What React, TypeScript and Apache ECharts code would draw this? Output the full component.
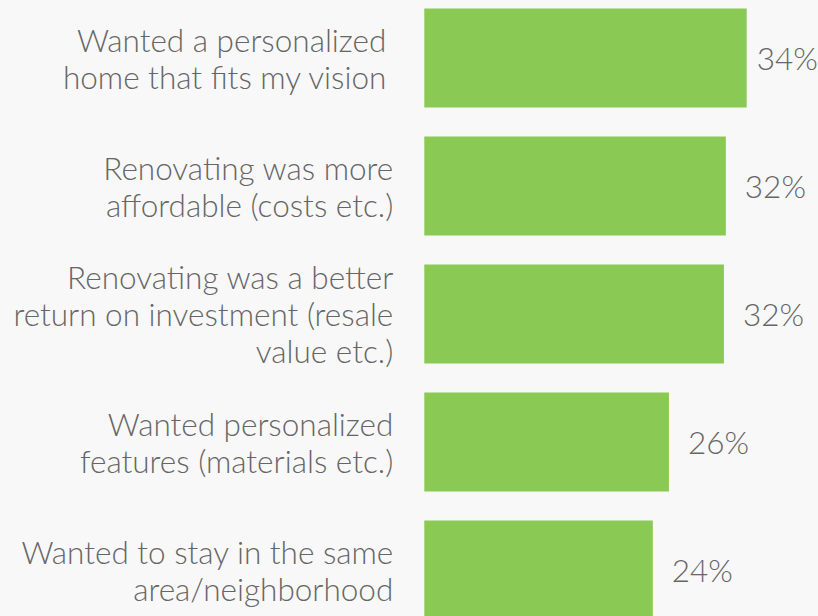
import React, { useEffect, useRef } from "react";
import * as echarts from "echarts";

const categories = [
  "Wanted a personalized\nhome that fits my vision",
  "Renovating was more\naffordable (costs etc.)",
  "Renovating was a better\nreturn on investment (resale\nvalue etc.)",
  "Wanted personalized\nfeatures (materials etc.)",
  "Wanted to stay in the same\narea/neighborhood",
];
const values = [34.0, 31.8, 31.6, 25.8, 24.1];
const valueLabels = ["34%", "32%", "32%", "26%", "24%"];

const FONT = "Lato";
const TEXT = "#666666";

export default function App() {
  const ref = useRef<HTMLDivElement>(null);
  useEffect(() => {
    document.body.style.margin = "0";
    document.body.style.overflow = "hidden";
    document.documentElement.style.overflow = "hidden";
    document.body.style.background = "#f8f8f8";
    const chart = echarts.init(ref.current!, null, { renderer: "svg" });
    chart.setOption({
      animation: false,
      backgroundColor: "#f8f8f8",
      grid: { left: 424.3, width: 322.4, top: 0, bottom: 0 },
      xAxis: {
        type: "value",
        min: 0,
        max: 34,
        show: false,
      },
      yAxis: {
        type: "category",
        inverse: true,
        data: categories.map((c, i) =>
          i === 0 ? { value: c, textStyle: { padding: [0, 7, 0, 0] } } : c
        ),
        axisLine: { show: false },
        axisTick: { show: false },
        splitLine: { show: false },
        axisLabel: {
          margin: 31,
          align: "right",
          color: TEXT,
          fontFamily: FONT,
          fontWeight: 300,
          fontSize: 31.5,
          lineHeight: 37,
        },
      },
      series: [
        {
          type: "bar",
          data: values.map((v, i) =>
            i === 0 ? { value: v, label: { offset: [-9, 0] } } : v
          ),
          barWidth: 99,
          itemStyle: { color: "#8bc955" },
          label: {
            show: true,
            position: "right",
            distance: 19,
            color: TEXT,
            fontFamily: FONT,
            fontWeight: 300,
            fontSize: 31.5,
            formatter: (p: any) => valueLabels[p.dataIndex],
          },
        },
      ],
    });
    return () => chart.dispose();
  }, []);
  return (
    <div
      ref={ref}
      style={{ position: "absolute", left: 0, top: -6.5, width: 818, height: 640 }}
    />
  );
}
